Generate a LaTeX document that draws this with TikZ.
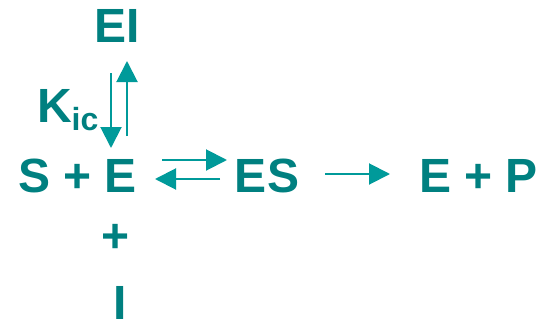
\documentclass[tikz,border=0pt]{standalone}
\usepackage{fontspec}
\setmainfont{Liberation Sans}
\usetikzlibrary{arrows.meta}
\definecolor{txt}{HTML}{008080}
\definecolor{arr}{HTML}{009A9A}
\begin{document}
\begin{tikzpicture}[x=1pt,y=1pt,
  lbl/.style={inner sep=0pt,outer sep=0pt,anchor=base,text=txt,font=\bfseries\fontsize{48}{48}\selectfont},
  rx/.style={draw=arr,line width=2pt,-{Triangle[length=21pt,width=21pt]}}]
\useasboundingbox (0,0) rectangle (540,322);
\node[lbl] (EI) at (117,279) {EI};
\node[lbl] (SE) at (77.5,130) {S + E};
\node[lbl] (ES) at (267,130) {ES};
\node[lbl] (EP) at (478.5,130) {E + P};
\node[lbl] (pl) at (115.5,70) {+};
\node[lbl] (I) at (120.5,3) {I};
\node[lbl,anchor=base west] (K) at (37,200) {K\raisebox{-8pt}{\fontsize{32}{32}\selectfont ic}};
\coordinate (d1) at (111,249);
\coordinate (d2) at (111,174);
\coordinate (u1) at (127,186);
\coordinate (u2) at (127,261);
\coordinate (r1) at (162,162);
\coordinate (r2) at (227,162);
\coordinate (l1) at (220,143);
\coordinate (l2) at (155,143);
\coordinate (p1) at (325,148);
\coordinate (p2) at (390,148);
\draw[rx] (d1) -- (d2);
\draw[rx] (u1) -- (u2);
\draw[rx] (r1) -- (r2);
\draw[rx] (l1) -- (l2);
\draw[rx] (p1) -- (p2);
\end{tikzpicture}
\end{document}
